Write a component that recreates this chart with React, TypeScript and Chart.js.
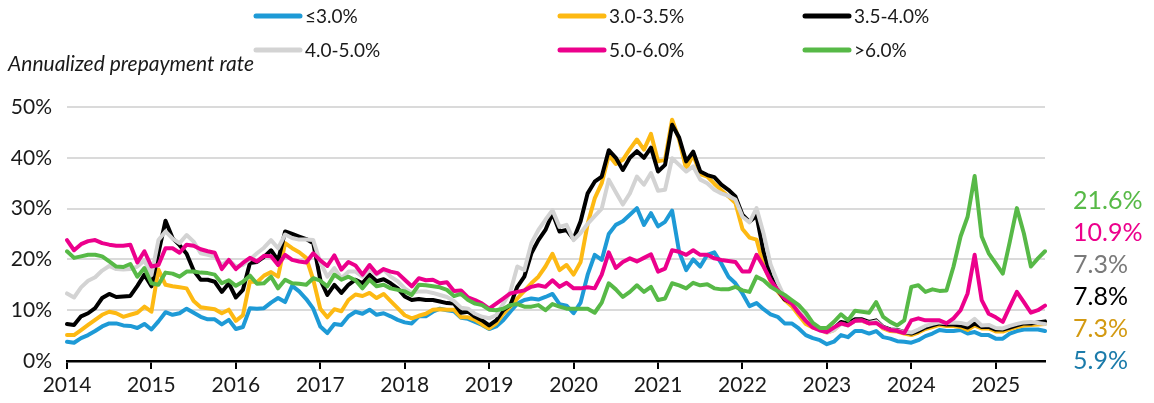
import React, { useEffect, useRef } from "react";
import { Chart, registerables } from "chart.js";

Chart.register(...registerables);

// ---------- DATA ----------
const years = [2014, 2015, 2016, 2017, 2018, 2019, 2020, 2021, 2022, 2023, 2024, 2025];

const seriesNames = ["≤3.0%", "3.0-3.5%", "3.5-4.0%", "4.0-5.0%", "5.0-6.0%", ">6.0%"];

// monthly annualized prepayment rate (%), Jan 2014 – Aug 2025
const upTo3 = [
  3.8, 3.6, 4.5, 5.1, 5.9, 6.8, 7.4, 7.4, 7.0, 6.9, 6.5, 7.3,
  6.2, 7.8, 9.6, 9.1, 9.4, 10.3, 9.5, 8.7, 8.2, 8.2, 7.2, 8.1,
  6.3, 6.7, 10.4, 10.3, 10.4, 11.5, 12.4, 11.6, 14.8, 13.7, 12.2, 10.3,
  6.8, 5.5, 7.3, 7.1, 8.8, 9.7, 9.3, 10.1, 9.1, 9.4, 8.8, 8.1,
  7.6, 7.4, 8.8, 8.8, 9.7, 10.3, 10.0, 9.8, 8.5, 8.3, 7.7, 7.1,
  6.3, 6.8, 8.0, 9.7, 11.3, 12.0, 12.3, 12.1, 12.6, 13.2, 11.2, 10.9,
  9.4, 11.5, 17.0, 20.9, 19.9, 25.0, 26.8, 27.5, 28.8, 30.1, 26.8, 29.1,
  26.5, 27.4, 29.6, 21.5, 17.9, 20.0, 18.6, 20.9, 21.4, 19.2, 16.6, 15.3,
  13.3, 10.8, 11.4, 10.2, 9.2, 8.7, 7.4, 7.4, 6.4, 5.1, 4.5, 4.1,
  3.3, 3.8, 5.1, 4.7, 5.9, 5.9, 5.4, 5.9, 4.7, 4.4, 3.9, 3.8,
  3.6, 4.1, 4.9, 5.4, 6.1, 5.9, 5.9, 6.1, 5.4, 5.7, 5.1, 5.1,
  4.4, 4.4, 5.4, 5.9, 6.2, 6.2, 6.2, 5.9,
];

const from3to35 = [
  5.1, 5.1, 6.1, 7.1, 8.1, 9.1, 9.7, 9.4, 8.7, 9.1, 9.5, 10.7,
  9.7, 18.0, 15.0, 14.7, 14.5, 14.3, 11.8, 10.6, 10.4, 10.2, 9.4, 10.1,
  7.9, 9.0, 15.7, 15.5, 16.8, 17.5, 16.6, 23.2, 22.2, 21.4, 20.3, 16.0,
  10.3, 8.6, 10.2, 9.8, 12.0, 13.1, 12.8, 13.4, 12.4, 13.2, 11.8, 10.4,
  9.0, 8.4, 8.9, 9.3, 10.1, 10.2, 10.1, 10.1, 8.6, 8.6, 8.1, 7.2,
  6.4, 7.4, 9.3, 10.7, 12.3, 13.8, 15.3, 16.6, 18.6, 21.1, 17.9, 18.9,
  17.0, 19.5, 27.0, 32.0, 35.0, 40.5, 38.8, 39.6, 41.7, 43.6, 41.6, 44.7,
  39.3, 39.6, 47.5, 43.6, 37.8, 40.6, 36.8, 36.3, 34.9, 33.6, 32.4, 31.1,
  26.0, 24.3, 23.9, 18.8, 15.7, 13.7, 12.0, 10.8, 9.0, 7.3, 6.6, 6.2,
  5.6, 6.1, 7.4, 7.1, 7.9, 7.9, 7.4, 7.7, 6.4, 5.9, 5.8, 5.4,
  5.1, 5.6, 6.3, 6.7, 7.1, 6.9, 6.9, 6.7, 6.1, 7.0, 6.4, 6.4,
  5.8, 5.8, 6.3, 6.7, 7.0, 7.1, 7.2, 7.3,
];

const from35to4 = [
  7.3, 7.1, 8.8, 9.4, 10.4, 12.4, 13.2, 12.6, 12.7, 12.8, 14.8, 17.0,
  14.7, 21.3, 27.6, 24.2, 22.8, 21.1, 17.8, 16.0, 16.0, 15.6, 13.6, 15.3,
  12.5, 14.0, 19.3, 19.5, 20.5, 21.8, 19.8, 25.5, 25.0, 24.5, 24.0, 23.2,
  16.0, 13.0, 15.0, 13.4, 15.0, 16.0, 15.3, 17.0, 15.7, 16.1, 15.3, 14.3,
  12.7, 12.0, 12.2, 12.0, 12.0, 11.7, 11.4, 11.3, 9.5, 9.7, 8.7, 8.0,
  7.0, 8.0, 10.0, 11.0, 14.6, 16.6, 21.2, 23.8, 25.8, 29.1, 25.5, 25.8,
  24.0, 27.5, 33.0, 35.3, 36.3, 41.5, 40.0, 37.6, 40.0, 41.3, 40.0, 42.0,
  37.3, 38.6, 46.5, 44.0, 39.3, 41.2, 37.3, 36.6, 36.2, 34.7, 33.7, 32.4,
  28.8, 27.4, 28.6, 21.5, 16.8, 14.0, 12.1, 11.4, 10.0, 8.4, 6.8, 6.2,
  5.9, 6.4, 7.7, 7.4, 8.2, 8.2, 7.7, 8.0, 6.7, 6.2, 6.1, 5.7,
  5.4, 5.9, 6.6, 7.0, 7.4, 7.2, 7.2, 7.0, 6.6, 7.4, 6.7, 6.7,
  6.2, 6.2, 6.6, 7.0, 7.4, 7.4, 7.6, 7.8,
];

const from4to5 = [
  13.3, 12.5, 14.5, 15.8, 16.5, 17.8, 18.7, 18.1, 18.0, 18.1, 18.6, 19.8,
  16.9, 23.8, 25.5, 24.1, 23.2, 24.8, 23.5, 21.2, 20.9, 20.5, 18.9, 19.9,
  18.6, 18.9, 20.0, 21.2, 22.3, 23.8, 22.2, 24.9, 24.2, 23.9, 23.9, 23.8,
  19.4, 16.6, 18.3, 16.3, 17.6, 17.6, 16.6, 18.0, 17.0, 18.0, 16.6, 15.7,
  14.3, 13.4, 13.7, 13.7, 13.4, 13.0, 12.6, 11.8, 10.5, 10.3, 9.3, 8.7,
  8.4, 9.0, 11.3, 13.6, 18.6, 17.9, 23.2, 25.8, 27.8, 29.7, 26.4, 26.8,
  23.8, 25.2, 27.0, 28.5, 30.0, 35.7, 33.2, 30.8, 33.0, 36.3, 34.7, 37.0,
  33.5, 33.7, 39.9, 38.6, 37.3, 38.3, 35.7, 35.0, 33.7, 33.0, 32.5, 31.8,
  28.4, 27.3, 30.1, 25.1, 19.0, 15.5, 12.5, 11.6, 10.0, 8.5, 7.0, 6.3,
  5.6, 6.1, 7.3, 7.0, 7.9, 7.9, 7.5, 7.8, 6.6, 6.1, 6.0, 5.7,
  5.6, 6.2, 6.9, 7.3, 7.6, 7.5, 7.6, 7.5, 7.2, 8.3, 7.0, 7.1,
  6.5, 6.4, 6.9, 7.3, 7.6, 7.7, 7.5, 7.3,
];

const from5to6 = [
  23.8, 21.8, 23.0, 23.6, 23.8, 23.2, 22.9, 22.7, 22.7, 22.9, 19.4, 21.6,
  18.6, 18.9, 22.2, 22.2, 21.3, 22.9, 22.7, 22.0, 21.6, 21.3, 18.1, 19.9,
  18.1, 19.3, 20.3, 19.6, 20.7, 20.6, 18.9, 20.9, 19.9, 19.6, 19.4, 21.2,
  19.8, 18.7, 20.8, 18.0, 19.5, 18.8, 17.0, 18.9, 17.2, 18.1, 17.6, 17.3,
  16.0, 14.7, 16.3, 15.9, 16.0, 15.3, 15.5, 13.8, 13.9, 12.5, 12.0, 11.3,
  10.3, 11.3, 12.3, 13.3, 13.6, 13.9, 14.6, 14.9, 14.6, 15.9, 14.6, 15.4,
  14.3, 14.3, 14.5, 14.3, 17.0, 21.4, 18.3, 19.5, 20.2, 19.6, 20.3, 21.0,
  17.6, 18.2, 21.8, 21.5, 20.9, 21.8, 20.9, 20.9, 20.2, 19.9, 19.7, 19.5,
  17.6, 17.6, 20.9, 18.6, 15.9, 14.0, 12.3, 11.3, 9.5, 7.9, 6.6, 6.0,
  5.7, 6.6, 7.4, 7.0, 7.9, 8.0, 7.4, 7.5, 6.6, 6.1, 5.9, 5.5,
  8.0, 8.4, 8.0, 8.0, 8.0, 7.4, 8.4, 10.0, 13.3, 20.9, 12.0, 9.3,
  8.6, 7.7, 10.7, 13.6, 11.6, 9.5, 10.0, 10.9,
];

const over6 = [
  21.6, 20.3, 20.6, 20.9, 20.9, 20.6, 19.6, 18.6, 18.5, 19.1, 16.6, 18.3,
  15.3, 15.0, 17.4, 17.2, 16.6, 17.6, 17.6, 17.4, 17.3, 17.0, 15.3, 15.9,
  14.8, 15.6, 16.8, 15.2, 15.3, 16.6, 14.3, 16.0, 15.3, 15.2, 15.0, 16.3,
  15.8, 14.7, 17.0, 16.0, 16.6, 15.9, 14.3, 16.0, 14.7, 15.0, 14.3, 14.0,
  13.7, 13.0, 15.0, 14.9, 14.7, 14.5, 14.0, 12.8, 13.2, 12.0, 11.3, 11.0,
  10.1, 10.0, 10.3, 11.0, 11.2, 10.7, 10.7, 11.0, 10.0, 11.2, 10.7, 10.3,
  10.3, 10.3, 10.3, 9.5, 11.5, 15.3, 14.1, 12.6, 13.6, 14.9, 13.6, 14.6,
  12.0, 12.3, 15.3, 14.9, 14.3, 15.4, 14.9, 15.1, 14.3, 14.1, 14.1, 14.6,
  13.9, 13.6, 16.6, 15.9, 14.6, 13.8, 13.0, 12.0, 11.0, 9.5, 7.5, 6.5,
  6.5, 7.7, 9.2, 8.0, 9.9, 9.7, 9.5, 11.6, 8.7, 7.7, 7.0, 8.0,
  14.6, 14.9, 13.6, 14.1, 13.8, 13.9, 18.6, 24.5, 28.4, 36.4, 24.5, 21.2,
  19.2, 17.2, 23.5, 30.1, 25.1, 18.6, 20.2, 21.6,
];

const yTicks = [0, 10, 20, 30, 40, 50];

const allSeries = [upTo3, from3to35, from35to4, from4to5, from5to6, over6];

const monthLabels = years
  .flatMap((y) => Array.from({ length: 12 }, (_, m) => `${y}-${String(m + 1).padStart(2, "0")}`))
  .slice(0, upTo3.length);

// ---------- STYLE ----------
const lineColors = ["#1E9AD6", "#FDB913", "#000000", "#D3D3D3", "#EC008C", "#57B947"];
const endLabelColors = ["#1B7BAA", "#D39A12", "#000000", "#7A7A7A", "#EC008C", "#57B947"];
const drawOrder = [6, 5, 4, 3, 2, 1]; // lower = drawn on top
const endLabelSeq = [5, 4, 3, 2, 1, 0]; // top to bottom at right side
const FONT = "Lato, 'Noto Sans', sans-serif";

const overlayPlugin = {
  id: "overlay",
  afterDraw(chart: any) {
    const ctx = chart.ctx as CanvasRenderingContext2D;
    ctx.save();
    // legend: 2 rows x 3 columns
    const colX = [254, 558, 803];
    const rowY = [16, 50];
    seriesNames.forEach((name, i) => {
      const x = colX[i % 3];
      const y = rowY[Math.floor(i / 3)];
      ctx.strokeStyle = lineColors[i];
      ctx.lineWidth = 5;
      ctx.lineCap = "round";
      ctx.beginPath();
      ctx.moveTo(x + 2, y);
      ctx.lineTo(x + 46, y);
      ctx.stroke();
      ctx.fillStyle = "#1a1a1a";
      ctx.font = `19px ${FONT}`;
      ctx.textBaseline = "middle";
      ctx.textAlign = "left";
      ctx.fillText(name, x + 51, y + 1);
    });
    // axis title
    ctx.font = `italic 21px ${FONT}`;
    ctx.fillStyle = "#1a1a1a";
    ctx.textBaseline = "middle";
    ctx.fillText("Annualized prepayment rate", 8, 64);
    // end labels
    ctx.font = `25px ${FONT}`;
    endLabelSeq.forEach((si, k) => {
      const s = allSeries[si];
      const v = s[s.length - 1];
      ctx.fillStyle = endLabelColors[si];
      ctx.fillText(`${v.toFixed(1)}%`, 1073, 201 + k * 32);
    });
    ctx.restore();
  },
};

export default function App() {
  const ref = useRef<HTMLCanvasElement | null>(null);

  useEffect(() => {
    if (!ref.current) return;
    const chart = new Chart(ref.current, {
      type: "line",
      data: {
        labels: monthLabels,
        datasets: allSeries.map((s, i) => ({
          label: seriesNames[i],
          data: s,
          borderColor: lineColors[i],
          backgroundColor: lineColors[i],
          borderWidth: 4,
          pointRadius: 0,
          tension: 0,
          fill: false,
          order: drawOrder[i],
          borderJoinStyle: "round" as const,
          borderCapStyle: "round" as const,
        })),
      },
      options: {
        animation: false,
        responsive: false,
        devicePixelRatio: 1,
        layout: { padding: { top: 107, right: 109, left: 0, bottom: 0 } },
        plugins: { legend: { display: false }, tooltip: { enabled: false }, title: { display: false } },
        scales: {
          x: {
            type: "category",
            offset: false,
            afterFit: (scale: any) => {
              scale.height = 42;
            },
            grid: {
              display: true,
              drawOnChartArea: false,
              drawTicks: true,
              tickLength: 8,
              color: "#000",
              lineWidth: 2,
            },
            border: { display: true, color: "#000", width: 2.5 },
            ticks: {
              autoSkip: false,
              maxRotation: 0,
              minRotation: 0,
              padding: 4,
              color: "#1a1a1a",
              font: { family: FONT, size: 21 },
              callback: (_v: any, idx: number) =>
                idx % 12 === 0 ? monthLabels[idx].slice(0, 4) : null,
            },
          },
          y: {
            min: yTicks[0],
            max: yTicks[yTicks.length - 1],
            afterFit: (scale: any) => {
              scale.width = 67;
            },
            afterBuildTicks: (scale: any) => {
              scale.ticks = yTicks.map((v) => ({ value: v }));
            },
            grid: { color: "#DADADA", lineWidth: 2, drawTicks: false },
            border: { display: false },
            ticks: {
              padding: 15,
              color: "#1a1a1a",
              font: { family: FONT, size: 21 },
              callback: (v: any) => `${v}%`,
            },
          },
        },
      },
      plugins: [overlayPlugin],
    });
    return () => chart.destroy();
  }, []);

  return (
    <div style={{ position: "absolute", left: 0, top: 0, width: 1154, height: 403, background: "#fff" }}>
      <canvas ref={ref} width={1154} height={403} style={{ display: "block", width: 1154, height: 403 }} />
    </div>
  );
}
